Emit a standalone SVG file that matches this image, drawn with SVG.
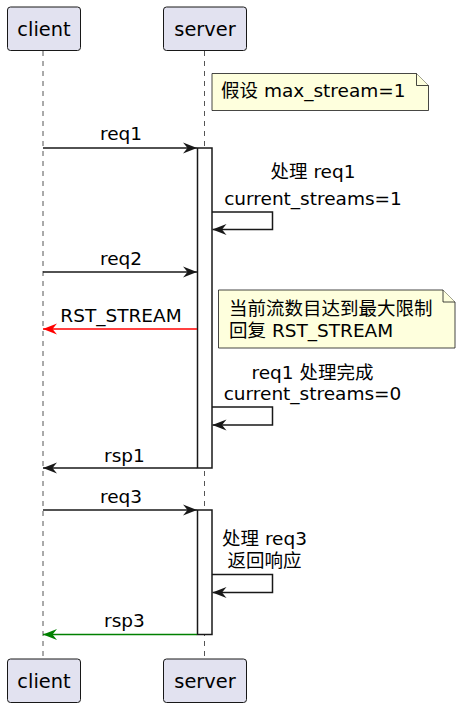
<svg xmlns="http://www.w3.org/2000/svg" width="465" height="711" viewBox="0 0 465 711">
<style>
text{font-family:"DejaVu Sans","Noto Sans CJK SC",sans-serif;fill:#000}
.p rect{fill:#E2E2F0;stroke:#181818;stroke-width:1}
.p text{font-size:19.4px;text-anchor:middle}
.m{font-size:18.5px}
.c{text-anchor:middle}
.life{stroke:#555;stroke-width:1;stroke-dasharray:5,5}
.act{fill:#fff;stroke:#181818;stroke-width:1.5}
.note path{fill:#FEFFDD;stroke:#181818;stroke-width:0.8}
.ln{fill:none;stroke:#181818;stroke-width:1.5}
</style>
<defs>
<marker id="ah" viewBox="0 0 14 12" refX="14" refY="6" markerWidth="14" markerHeight="12" markerUnits="userSpaceOnUse" orient="auto"><path d="M0,0.5 L14,6 L0,11.5 L4.5,6 Z" fill="#181818"/></marker>
<marker id="ahr" viewBox="0 0 14 12" refX="14" refY="6" markerWidth="14" markerHeight="12" markerUnits="userSpaceOnUse" orient="auto"><path d="M0,0.5 L14,6 L0,11.5 L4.5,6 Z" fill="#FF0000"/></marker>
<marker id="ahg" viewBox="0 0 14 12" refX="14" refY="6" markerWidth="14" markerHeight="12" markerUnits="userSpaceOnUse" orient="auto"><path d="M0,0.5 L14,6 L0,11.5 L4.5,6 Z" fill="#008000"/></marker>
</defs>
<rect width="465" height="711" fill="#fff"/>
<g id="lifelines">
<line class="life" x1="43" y1="51" x2="43" y2="659"/>
<line class="life" x1="204.5" y1="51" x2="204.5" y2="659"/>
</g>
<g id="client-top" class="p"><rect x="7.5" y="7" width="73" height="43.5" rx="3"/><text x="44" y="36">client</text></g>
<g id="server-top" class="p"><rect x="163.5" y="7" width="83" height="43.5" rx="3"/><text x="205" y="36">server</text></g>
<g id="client-bottom" class="p"><rect x="7.5" y="659" width="73" height="43.5" rx="3"/><text x="44" y="688">client</text></g>
<g id="server-bottom" class="p"><rect x="163.5" y="659" width="83" height="43.5" rx="3"/><text x="205" y="688">server</text></g>
<g id="activation1"><rect class="act" x="197.5" y="148" width="14.5" height="320"/></g>
<g id="activation2"><rect class="act" x="197.5" y="510" width="14.5" height="124.5"/></g>
<g id="note1" class="note">
<path d="M212,73.5 H416.5 L428.5,85.5 V110.5 H212 Z"/>
<path d="M416.5,73.5 V85.5 H428.5" fill="none"/>
<text class="m" x="221" y="97">假设 max_stream=1</text>
</g>
<g id="note2" class="note">
<path d="M218.5,290 H443 L455,302 V348 H218.5 Z"/>
<path d="M443,290 V302 H455" fill="none"/>
<text class="m" x="229" y="315">当前流数目达到最大限制</text>
<text class="m" x="229" y="337">回复 RST_STREAM</text>
</g>
<g id="connectors">
<line class="ln" x1="43" y1="148" x2="197" y2="148" marker-end="url(#ah)"/>
<text class="m c" x="121" y="140">req1</text>
<path class="ln" d="M212,212 H272.5 V229.5 H212.5" marker-end="url(#ah)"/>
<text class="m c" x="313" y="178">处理 req1</text>
<text class="m c" x="313" y="205">current_streams=1</text>
<line class="ln" x1="43" y1="272" x2="197" y2="272" marker-end="url(#ah)"/>
<text class="m c" x="121" y="265">req2</text>
<line class="ln" x1="197" y1="329" x2="43" y2="329" stroke="#FF0000" style="stroke:#FF0000" marker-end="url(#ahr)"/>
<text class="m c" x="121" y="322">RST_STREAM</text>
<path class="ln" d="M212,407 H272.5 V425 H212.5" marker-end="url(#ah)"/>
<text class="m c" x="312.5" y="379">req1 处理完成</text>
<text class="m c" x="312.5" y="400">current_streams=0</text>
<line class="ln" x1="197" y1="468" x2="43" y2="468" marker-end="url(#ah)"/>
<text class="m c" x="124.5" y="461.5">rsp1</text>
<line class="ln" x1="43" y1="510" x2="197" y2="510" marker-end="url(#ah)"/>
<text class="m c" x="121" y="502.5">req3</text>
<path class="ln" d="M212,574.5 H272.5 V592.5 H212.5" marker-end="url(#ah)"/>
<text class="m c" x="264.5" y="545">处理 req3</text>
<text class="m c" x="264.5" y="566.5">返回响应</text>
<line class="ln" x1="197" y1="634.5" x2="43" y2="634.5" style="stroke:#008000" marker-end="url(#ahg)"/>
<text class="m c" x="124.5" y="627">rsp3</text>
</g>
</svg>
